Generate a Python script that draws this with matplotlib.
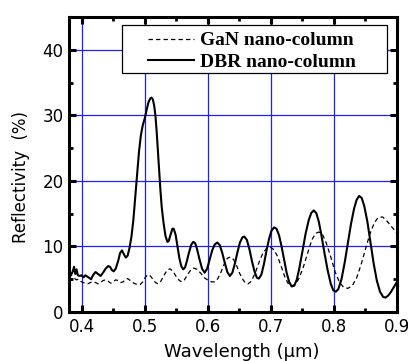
import matplotlib
matplotlib.use("Agg")
import matplotlib.pyplot as plt
from matplotlib.ticker import MultipleLocator
from matplotlib.patches import Rectangle

# DBR nano-column (solid)
dbr_x = [0.380, 0.383, 0.386, 0.388, 0.390, 0.392, 0.394, 0.397, 0.400, 0.403, 0.406, 0.409, 0.412,
         0.415, 0.418, 0.422, 0.426, 0.430, 0.434, 0.438, 0.442, 0.445, 0.448, 0.451, 0.454, 0.458,
         0.461, 0.464, 0.467, 0.470, 0.473, 0.476, 0.479, 0.482, 0.485, 0.488, 0.491, 0.494, 0.497,
         0.500, 0.503, 0.506, 0.509, 0.511, 0.513, 0.515, 0.517, 0.519, 0.521, 0.523, 0.525, 0.527,
         0.530, 0.533, 0.536, 0.538, 0.541, 0.544, 0.546, 0.549, 0.552, 0.555, 0.558, 0.561, 0.564,
         0.567, 0.570, 0.574, 0.577, 0.580, 0.583, 0.587, 0.591, 0.595, 0.599, 0.603, 0.607, 0.611,
         0.615, 0.619, 0.623, 0.627, 0.631, 0.635, 0.639, 0.643, 0.647, 0.651, 0.655, 0.658, 0.662,
         0.666, 0.670, 0.674, 0.678, 0.681, 0.685, 0.689, 0.693, 0.697, 0.701, 0.705, 0.709, 0.713,
         0.717, 0.721, 0.725, 0.729, 0.733, 0.737, 0.741, 0.745, 0.750, 0.755, 0.760, 0.764, 0.768,
         0.772, 0.776, 0.780, 0.785, 0.790, 0.795, 0.799, 0.803, 0.807, 0.812, 0.817, 0.822, 0.827,
         0.832, 0.836, 0.840, 0.844, 0.848, 0.853, 0.858, 0.863, 0.868, 0.873, 0.878, 0.882, 0.886,
         0.890, 0.895, 0.900]
dbr_y = [5.3, 5.6, 6.2, 6.9, 5.8, 6.5, 5.6, 5.5, 5.6, 5.3, 5.6, 5.4, 5.2,
         5.0, 5.6, 6.1, 5.8, 5.5, 6.0, 6.6, 7.0, 6.9, 6.4, 6.2, 6.6, 7.8,
         9.0, 9.4, 8.8, 8.3, 8.6, 9.8, 11.5, 14.0, 17.5, 21.0, 24.5, 27.0, 28.5,
         29.5, 30.8, 32.0, 32.6, 32.7, 32.4, 31.5, 30.0, 27.5, 24.5, 21.5, 18.5, 16.0,
         13.5, 11.6, 10.7, 10.8, 11.8, 12.7, 12.7, 11.8, 10.0, 8.2, 7.0, 6.5, 6.8,
         7.8, 9.0, 10.3, 10.7, 10.5, 9.6, 8.0, 6.6, 6.0, 6.6, 8.0, 9.4, 10.3,
         10.6, 10.2, 9.0, 7.5, 6.1, 5.5, 6.0, 7.4, 9.1, 10.6, 11.4, 11.5, 11.0,
         9.6, 7.8, 6.2, 5.2, 5.1, 5.7, 7.3, 9.3, 11.1, 12.4, 12.9, 12.7, 11.7,
         10.0, 8.0, 6.0, 4.6, 3.9, 4.0, 4.9, 6.6, 9.2, 11.9, 14.0, 15.1, 15.5,
         15.1, 13.8, 11.8, 9.0, 6.4, 4.3, 3.3, 3.1, 3.5, 5.0, 7.5, 10.5, 13.4,
         15.8, 17.1, 17.7, 17.4, 16.2, 13.8, 10.6, 7.4, 4.8, 3.1, 2.3, 2.2, 2.5,
         3.0, 3.8, 4.6]

# GaN nano-column (dashed)
gan_x = [0.380, 0.383, 0.386, 0.389, 0.392, 0.395, 0.398, 0.402, 0.406, 0.410, 0.414, 0.418, 0.422,
         0.426, 0.430, 0.434, 0.438, 0.442, 0.446, 0.450, 0.454, 0.458, 0.462, 0.466, 0.470, 0.473,
         0.477, 0.481, 0.485, 0.489, 0.493, 0.497, 0.501, 0.505, 0.509, 0.513, 0.517, 0.521, 0.525,
         0.530, 0.535, 0.540, 0.545, 0.550, 0.555, 0.559, 0.563, 0.568, 0.573, 0.578, 0.583, 0.589,
         0.595, 0.601, 0.606, 0.611, 0.616, 0.621, 0.626, 0.631, 0.636, 0.641, 0.646, 0.651, 0.656,
         0.660, 0.664, 0.669, 0.675, 0.681, 0.687, 0.693, 0.699, 0.705, 0.711, 0.717, 0.722, 0.727,
         0.733, 0.739, 0.745, 0.752, 0.759, 0.765, 0.771, 0.776, 0.782, 0.788, 0.795, 0.802, 0.809,
         0.815, 0.822, 0.829, 0.836, 0.843, 0.850, 0.857, 0.864, 0.870, 0.877, 0.883, 0.889, 0.895,
         0.900]
gan_y = [5.3, 5.0, 4.8, 5.1, 4.9, 5.0, 4.7, 4.5, 4.4, 4.3, 4.5, 4.6, 4.5,
         4.3, 4.5, 4.8, 4.9, 4.7, 4.4, 4.6, 4.9, 4.8, 4.5, 4.6, 5.0, 5.1,
         4.8, 4.5, 4.3, 4.2, 4.2, 4.6, 5.3, 5.7, 5.5, 5.0, 4.5, 4.3, 4.6,
         5.5, 6.3, 6.6, 6.2, 5.4, 4.8, 4.6, 4.9, 5.7, 6.4, 6.7, 6.5, 5.9,
         5.2, 4.8, 4.6, 4.6, 5.1, 6.1, 7.3, 8.2, 8.4, 8.0, 7.0, 5.8, 4.9,
         4.4, 4.3, 4.7, 5.9, 7.5, 8.9, 9.7, 9.9, 9.5, 8.4, 6.8, 5.4, 4.4,
         4.0, 4.2, 5.2, 7.0, 9.2, 11.0, 12.0, 12.2, 11.8, 10.5, 8.4, 6.1, 4.5,
         3.8, 3.6, 4.0, 5.2, 7.2, 9.6, 11.9, 13.6, 14.4, 14.5, 14.0, 13.3, 12.6,
         12.0]

x_ticks = [0.4, 0.5, 0.6, 0.7, 0.8, 0.9]
x_ticklabels = ["0.4", "0.5", "0.6", "0.7", "0.8", "0.9"]
y_ticks = [0, 10, 20, 30, 40]
y_ticklabels = ["0", "10", "20", "30", "40"]

fig = plt.figure(figsize=(4.08, 3.61), dpi=100)
ax = fig.add_axes([69/408, 1 - 312/361, (397 - 69)/408, (312 - 17)/361])

ax.plot(gan_x, gan_y, color="black", lw=0.9, ls=(0, (3.5, 2.5)), label="GaN nano-column")
ax.plot(dbr_x, dbr_y, color="black", lw=1.5, label="DBR nano-column")

ax.set_xlim(0.38, 0.9)
ax.set_ylim(0, 45)
ax.set_xticks(x_ticks)
ax.set_xticklabels(x_ticklabels)
ax.set_yticks(y_ticks)
ax.set_yticklabels(y_ticklabels)
ax.xaxis.set_minor_locator(MultipleLocator(0.05))
ax.yaxis.set_minor_locator(MultipleLocator(5))
ax.grid(True, which="major", color="#2020ff", lw=0.9)
ax.set_axisbelow(True)

ax.tick_params(which="major", direction="in", length=5, width=2.2, top=True, right=True,
               labelsize=12, pad=4)
ax.tick_params(which="minor", direction="in", length=3, width=2.0, top=True, right=True)
for sp in ax.spines.values():
    sp.set_linewidth(2.2)

ax.set_xlabel("Wavelength (μm)", fontsize=13)
ax.xaxis.set_label_coords(0.527, -0.105)
ax.set_ylabel("Reflectivity  (%)", fontsize=12)
ax.yaxis.set_label_coords(-0.119, 0.458)

# legend frame (drawn separately to match the wide box)
frame = Rectangle((0.1616, 0.810), 0.970 - 0.1616, 0.973 - 0.810, transform=ax.transAxes,
                  facecolor="white", edgecolor="black", lw=0.9, zorder=4)
ax.add_patch(frame)
leg = ax.legend(loc="upper left", bbox_to_anchor=(0.241, 0.950), frameon=False,
                borderpad=0, handlelength=2.35, handletextpad=0.3, labelspacing=0.22,
                borderaxespad=0,
                prop={"family": "Liberation Serif", "weight": "bold", "size": 14})
leg.set_zorder(5)

fig.savefig("out.png", dpi=100)
